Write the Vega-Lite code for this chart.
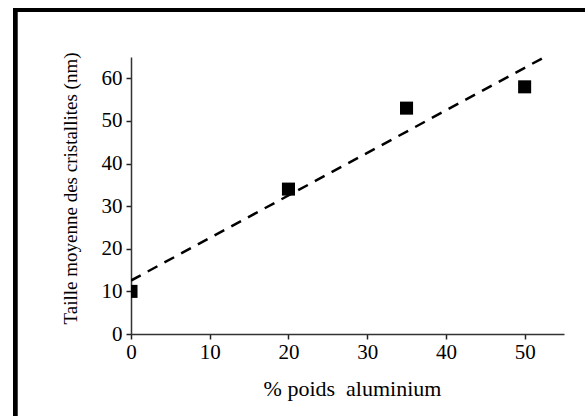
{
  "$schema": "https://vega.github.io/schema/vega-lite/v6.json",
  "autosize": "none",
  "width": 433,
  "height": 277,
  "padding": {"left": 131, "top": 57, "right": 21, "bottom": 82},
  "background": "white",
  "config": {
    "view": {"stroke": null},
    "font": "Liberation Serif",
    "axis": {
      "domainColor": "#333",
      "domainWidth": 1.5,
      "tickColor": "#222",
      "tickWidth": 1.5,
      "grid": false,
      "labelFont": "Liberation Serif",
      "labelFontSize": 21,
      "labelColor": "black",
      "labelFlush": false,
      "labelOverlap": false,
      "titleFont": "Liberation Serif",
      "titleFontWeight": "normal",
      "titleColor": "black"
    }
  },
  "data": {
    "values": [
      {"pct": 0, "taille": 10},
      {"pct": 20, "taille": 34},
      {"pct": 35, "taille": 53},
      {"pct": 50, "taille": 58}
    ]
  },
  "layer": [
    {
      "mark": {"type": "rect", "fill": null, "stroke": "black", "strokeWidth": 4, "clip": false},
      "encoding": {
        "x": {"datum": -14.7, "type": "quantitative"},
        "x2": {"datum": 70},
        "y": {"datum": 76, "type": "quantitative"},
        "y2": {"datum": -40}
      }
    },
    {
      "transform": [
        {"regression": "taille", "on": "pct", "extent": [0, 55]}
      ],
      "mark": {"type": "line", "color": "black", "strokeWidth": 2.5, "strokeDash": [11, 8], "clip": true},
      "encoding": {
        "x": {"field": "pct", "type": "quantitative"},
        "y": {"field": "taille", "type": "quantitative"}
      }
    },
    {
      "mark": {"type": "point", "shape": "square", "filled": true, "color": "black", "opacity": 1, "size": 170, "clip": true},
      "encoding": {
        "x": {
          "field": "pct",
          "type": "quantitative",
          "scale": {"domain": [0, 55], "nice": false, "zero": false},
          "axis": {
            "title": "% poids\u00a0\u00a0aluminium",
            "titleFontSize": 22,
            "titlePadding": 16,
            "titleX": 221,
            "values": [0, 5, 10, 15, 20, 25, 30, 35, 40, 45, 50, 55],
            "labelExpr": "datum.value % 10 === 0 ? datum.label : ''",
            "tickSize": {"condition": {"test": "datum.value % 10 === 0", "value": 5}, "value": 3},
            "labelPadding": 2
          }
        },
        "y": {
          "field": "taille",
          "type": "quantitative",
          "scale": {"domain": [0, 65], "nice": false, "zero": false},
          "axis": {
            "title": "Taille moyenne des cristallites (nm)",
            "titleFontSize": 19,
            "titlePadding": 21,
            "titleY": 131,
            "values": [0, 5, 10, 15, 20, 25, 30, 35, 40, 45, 50, 55, 60, 65],
            "labelExpr": "datum.value % 10 === 0 ? datum.label : ''",
            "tickSize": {"condition": {"test": "datum.value % 10 === 0", "value": 5}, "value": 3},
            "labelPadding": 4
          }
        }
      }
    }
  ]
}
